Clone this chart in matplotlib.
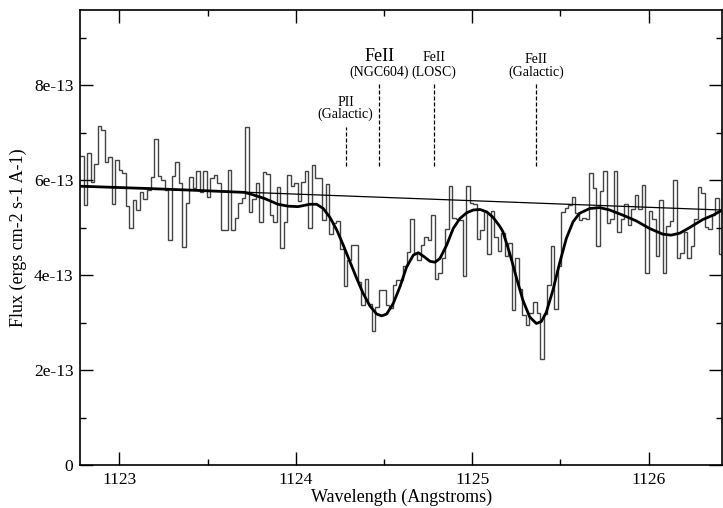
import numpy as np
import matplotlib
matplotlib.use("Agg")
import matplotlib.pyplot as plt
from matplotlib.ticker import FixedLocator, MultipleLocator, FuncFormatter

plt.rcParams['font.family'] = ['Liberation Serif', 'DejaVu Serif']

SCALE = 1e-13

# observed spectrum, one value per bin (units of 1e-13)
flux = [6.51, 5.47, 6.56, 5.96, 6.33, 7.14, 7.05, 6.39, 6.48, 5.49,
        6.42, 6.21, 6.14, 5.45, 5.00, 5.59, 5.37, 5.75, 5.61, 5.79,
        6.06, 6.86, 6.09, 6.01, 5.78, 4.74, 6.09, 6.37, 5.94, 4.58,
        5.51, 6.07, 5.84, 6.19, 5.75, 6.19, 5.65, 6.04, 6.11, 5.93,
        4.95, 4.95, 6.22, 4.95, 5.21, 5.51, 5.63, 7.11, 5.33, 5.61,
        5.94, 5.12, 6.16, 6.12, 5.26, 5.12, 5.86, 4.56, 5.11, 6.11,
        5.88, 5.93, 5.56, 5.95, 6.20, 4.98, 6.32, 6.04, 6.04, 5.16,
        5.91, 4.86, 5.09, 5.14, 4.54, 3.77, 4.32, 4.63, 4.63, 3.86,
        3.37, 3.91, 3.40, 2.83, 3.33, 3.68, 3.68, 3.37, 3.30, 3.79,
        3.89, 3.89, 4.18, 4.49, 5.19, 4.46, 4.32, 4.63, 4.81, 4.74,
        5.26, 3.92, 4.04, 4.35, 4.96, 5.87, 5.21, 5.17, 5.16, 3.99,
        5.88, 5.52, 5.49, 4.76, 4.95, 5.33, 4.44, 5.35, 4.81, 4.51,
        4.88, 4.40, 4.68, 3.26, 4.35, 3.70, 3.16, 2.95, 3.21, 3.44,
        3.21, 2.23, 3.17, 3.79, 4.61, 3.28, 4.18, 5.33, 5.42, 5.47,
        5.64, 5.31, 5.16, 5.21, 5.19, 6.15, 5.84, 4.62, 5.77, 6.20,
        5.09, 5.17, 6.18, 4.91, 5.19, 5.49, 5.05, 5.40, 5.68, 5.38,
        5.89, 4.05, 5.35, 5.17, 4.40, 5.59, 4.04, 5.03, 5.14, 6.01,
        4.35, 4.46, 4.91, 4.35, 4.61, 5.19, 5.86, 5.72, 5.02, 4.96,
        5.26, 5.63, 4.44]
wl_first, wl_last = 1122.779, 1126.418

# fitted model
model_wl = [1122.779, 1123.174, 1123.457, 1123.710, 1123.748, 1123.824, 1123.899,
            1123.956, 1124.012, 1124.080, 1124.118, 1124.156, 1124.194, 1124.232,
            1124.269, 1124.307, 1124.345, 1124.382, 1124.420, 1124.458, 1124.487,
            1124.515, 1124.552, 1124.590, 1124.628, 1124.666, 1124.694, 1124.722,
            1124.760, 1124.789, 1124.817, 1124.855, 1124.892, 1124.930, 1124.968,
            1125.006, 1125.044, 1125.082, 1125.119, 1125.157, 1125.174, 1125.212,
            1125.249, 1125.287, 1125.325, 1125.363, 1125.391, 1125.419, 1125.457,
            1125.495, 1125.533, 1125.571, 1125.608, 1125.665, 1125.722, 1125.778,
            1125.854, 1125.929, 1126.005, 1126.080, 1126.127, 1126.175, 1126.232,
            1126.307, 1126.364, 1126.418]
model_flux = [5.87, 5.82, 5.78, 5.74, 5.70, 5.61, 5.49,
              5.45, 5.44, 5.49, 5.49, 5.40, 5.21, 4.95,
              4.63, 4.28, 3.93, 3.61, 3.35, 3.18, 3.14,
              3.18, 3.40, 3.75, 4.17, 4.42, 4.47, 4.40,
              4.29, 4.27, 4.35, 4.63, 4.98, 5.19, 5.31,
              5.37, 5.38, 5.33, 5.21, 5.02, 4.91, 4.46,
              3.96, 3.47, 3.12, 2.98, 3.02, 3.21, 3.68,
              4.25, 4.77, 5.12, 5.30, 5.40, 5.42, 5.37,
              5.26, 5.14, 4.98, 4.86, 4.84, 4.88, 5.00,
              5.17, 5.26, 5.37]

# continuum
cont_wl = [1122.779, 1126.418]
cont_flux = [5.874, 5.368]

# line identifications
line_wl = [1124.282, 1124.472, 1124.781, 1125.360]
line_top = [7.12, 8.04, 8.04, 8.04]
line_bottom = 6.30
line_names = ["PII", "FeII", "FeII", "FeII"]
line_sources = ["(Galactic)", "(NGC604)", "(LOSC)", "(Galactic)"]

# label placement
name_y = [7.56, 8.50, 8.51, 8.47]
source_y = [7.30, 8.19, 8.19, 8.19]
name_size = [10, 13, 10, 10]

x_ticks = [1123, 1124, 1125, 1126]
y_ticks = [0, 2, 4, 6, 8]

# %%
fig = plt.figure(figsize=(7.23, 5.08), dpi=100)
ax = fig.add_axes([0.1111, 0.0846, 0.8882, 0.8957])

edges = np.linspace(wl_first, wl_last, len(flux) + 1)
ax.stairs(np.array(flux) * SCALE, edges, baseline=None, color="#444444", lw=1.0)
ax.plot(cont_wl, np.array(cont_flux) * SCALE, color="black", lw=0.9)
ax.plot(model_wl, np.array(model_flux) * SCALE, color="black", lw=2.0)

for i in range(len(line_wl)):
    ax.plot([line_wl[i], line_wl[i]], [line_bottom * SCALE, line_top[i] * SCALE],
            color="black", lw=0.9, linestyle=(0, (3.2, 1.6)))
    ax.text(line_wl[i], name_y[i] * SCALE, line_names[i], fontsize=name_size[i],
            ha="center", va="baseline")
    ax.text(line_wl[i], source_y[i] * SCALE, line_sources[i], fontsize=10,
            ha="center", va="baseline")

ax.set_xlim(wl_first, wl_last)
ax.set_ylim(0, 9.58 * SCALE)

ax.xaxis.set_major_locator(FixedLocator(x_ticks))
ax.xaxis.set_minor_locator(MultipleLocator(0.5))
ax.yaxis.set_major_locator(FixedLocator([v * SCALE for v in y_ticks]))
ax.yaxis.set_minor_locator(MultipleLocator(SCALE))
ax.xaxis.set_major_formatter(FuncFormatter(lambda v, _: f"{v:.0f}"))
ax.yaxis.set_major_formatter(FuncFormatter(
    lambda v, _: "0" if abs(v) < 1e-20 else f"{v / SCALE:.0f}e-13"))

ax.tick_params(which="both", direction="in", top=True, right=True, width=1.0)
ax.tick_params(which="major", length=9.5, labelsize=12.5, pad=5)
ax.tick_params(which="minor", length=4.5)
for s in ax.spines.values():
    s.set_linewidth(1.2)

ax.set_xlabel("Wavelength (Angstroms)", fontsize=13)
ax.set_ylabel("Flux (ergs cm-2 s-1 A-1)", fontsize=13)
ax.xaxis.set_label_coords(0.5, -0.052)
ax.yaxis.set_label_coords(-0.083, 0.5)

fig.savefig("out.png", dpi=100)
